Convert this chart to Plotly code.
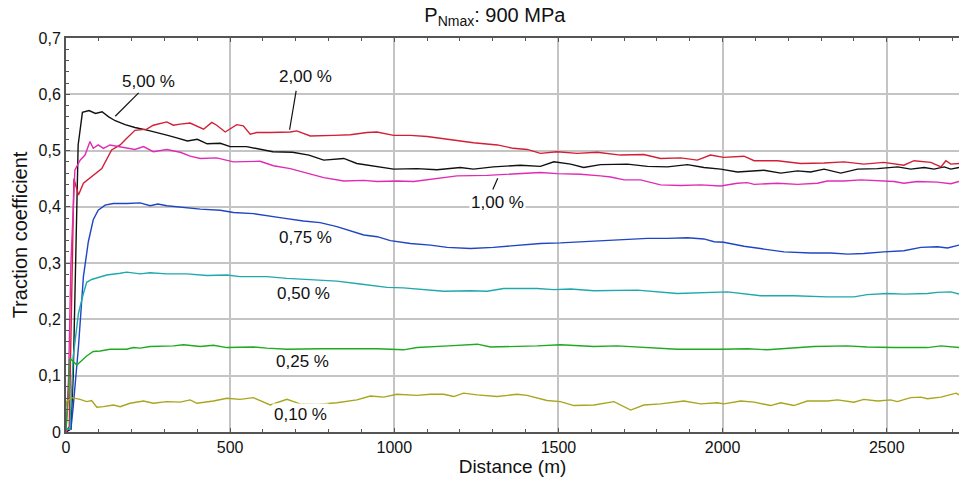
import plotly.graph_objects as go

# ---------------- data ----------------
x_black = [0, 15, 22, 30, 37, 50, 70, 90, 110, 130, 150, 180, 210, 250, 280, 310, 340, 370, 400, 430, 470, 500, 550, 590, 630, 690, 740, 785, 846, 886, 948, 998, 1069, 1130, 1201, 1241, 1302, 1384, 1445, 1486, 1537, 1577, 1628, 1710, 1771, 1832, 1893, 1943, 1994, 2045, 2126, 2177, 2228, 2268, 2309, 2360, 2411, 2472, 2533, 2573, 2614, 2644, 2675, 2695, 2720]
y_black = [0.0, 0.005, 0.1, 0.35, 0.51, 0.568, 0.571, 0.566, 0.569, 0.56, 0.553, 0.546, 0.541, 0.536, 0.532, 0.527, 0.522, 0.517, 0.52, 0.512, 0.513, 0.507, 0.507, 0.503, 0.498, 0.497, 0.492, 0.483, 0.486, 0.477, 0.471, 0.467, 0.468, 0.466, 0.47, 0.467, 0.471, 0.474, 0.472, 0.48, 0.476, 0.47, 0.475, 0.476, 0.472, 0.471, 0.475, 0.47, 0.467, 0.462, 0.465, 0.46, 0.464, 0.462, 0.467, 0.46, 0.467, 0.468, 0.471, 0.467, 0.47, 0.467, 0.471, 0.467, 0.47]

x_red = [0, 10, 24, 38, 53, 78, 109, 139, 165, 185, 210, 246, 266, 307, 327, 348, 378, 419, 444, 459, 485, 520, 540, 561, 581, 622, 683, 703, 744, 815, 866, 917, 947, 998, 1049, 1100, 1171, 1241, 1314, 1362, 1405, 1445, 1496, 1557, 1618, 1689, 1760, 1811, 1872, 1923, 1963, 2003, 2065, 2096, 2167, 2238, 2309, 2370, 2430, 2491, 2552, 2583, 2634, 2665, 2680, 2695, 2720]
y_red = [0.0, 0.01, 0.45, 0.421, 0.442, 0.453, 0.468, 0.501, 0.51, 0.522, 0.536, 0.538, 0.545, 0.551, 0.545, 0.547, 0.549, 0.538, 0.55, 0.545, 0.533, 0.546, 0.544, 0.529, 0.532, 0.532, 0.533, 0.535, 0.526, 0.527, 0.528, 0.532, 0.533, 0.527, 0.527, 0.525, 0.519, 0.514, 0.51, 0.504, 0.502, 0.495, 0.498, 0.495, 0.497, 0.492, 0.493, 0.486, 0.487, 0.483, 0.492, 0.488, 0.49, 0.482, 0.482, 0.477, 0.478, 0.48, 0.476, 0.479, 0.474, 0.482, 0.479, 0.471, 0.482, 0.476, 0.477]

x_magenta = [0, 8, 15, 27, 43, 58, 73, 83, 98, 114, 134, 160, 185, 210, 236, 266, 307, 348, 378, 409, 459, 510, 591, 632, 683, 734, 785, 846, 907, 948, 1008, 1059, 1130, 1191, 1283, 1354, 1405, 1445, 1496, 1567, 1628, 1659, 1700, 1750, 1811, 1872, 1933, 1994, 2045, 2075, 2096, 2167, 2228, 2289, 2319, 2370, 2421, 2472, 2522, 2552, 2593, 2654, 2695, 2720]
y_magenta = [0.0, 0.1, 0.3, 0.465, 0.483, 0.492, 0.516, 0.504, 0.51, 0.504, 0.51, 0.507, 0.504, 0.502, 0.507, 0.498, 0.502, 0.497, 0.49, 0.486, 0.487, 0.48, 0.481, 0.473, 0.468, 0.46, 0.452, 0.446, 0.447, 0.445, 0.446, 0.445, 0.451, 0.455, 0.456, 0.458, 0.459, 0.461, 0.459, 0.458, 0.455, 0.453, 0.448, 0.448, 0.439, 0.438, 0.439, 0.437, 0.442, 0.443, 0.44, 0.442, 0.44, 0.442, 0.446, 0.446, 0.448, 0.446, 0.445, 0.442, 0.445, 0.444, 0.441, 0.445]

x_blue = [0, 15, 22, 38, 53, 68, 83, 98, 119, 144, 185, 226, 256, 280, 307, 343, 368, 409, 470, 510, 571, 612, 662, 723, 774, 825, 866, 907, 948, 988, 1049, 1110, 1161, 1232, 1302, 1384, 1445, 1506, 1608, 1710, 1771, 1832, 1893, 1943, 1974, 2003, 2065, 2126, 2187, 2268, 2329, 2381, 2430, 2491, 2552, 2604, 2654, 2685, 2720]
y_blue = [0.005, 0.005, 0.045, 0.152, 0.276, 0.338, 0.377, 0.394, 0.403, 0.406, 0.406, 0.407, 0.402, 0.405, 0.402, 0.4, 0.399, 0.396, 0.394, 0.39, 0.388, 0.384, 0.38, 0.375, 0.372, 0.365, 0.358, 0.35, 0.347, 0.34, 0.335, 0.332, 0.328, 0.326, 0.328, 0.332, 0.335, 0.336, 0.339, 0.342, 0.344, 0.344, 0.345, 0.343, 0.338, 0.337, 0.33, 0.325, 0.32, 0.318, 0.318, 0.316, 0.317, 0.32, 0.322, 0.328, 0.329, 0.327, 0.332]

x_teal = [0, 12, 22, 38, 53, 63, 78, 98, 124, 165, 185, 226, 256, 307, 368, 429, 490, 530, 612, 673, 723, 774, 825, 896, 978, 1028, 1150, 1232, 1283, 1333, 1435, 1486, 1537, 1608, 1740, 1862, 1933, 2015, 2116, 2217, 2319, 2400, 2440, 2502, 2552, 2624, 2654, 2695, 2720]
y_teal = [0.005, 0.005, 0.134, 0.211, 0.246, 0.266, 0.271, 0.275, 0.279, 0.282, 0.284, 0.281, 0.283, 0.281, 0.281, 0.278, 0.279, 0.276, 0.276, 0.273, 0.271, 0.269, 0.268, 0.263, 0.257, 0.256, 0.25, 0.251, 0.25, 0.255, 0.255, 0.253, 0.254, 0.251, 0.252, 0.246, 0.247, 0.249, 0.242, 0.242, 0.24, 0.24, 0.244, 0.246, 0.245, 0.246, 0.248, 0.249, 0.245]

x_green = [0, 6, 12, 33, 63, 83, 104, 134, 185, 205, 226, 256, 327, 358, 409, 449, 490, 571, 612, 673, 774, 825, 948, 1028, 1069, 1165, 1253, 1293, 1384, 1435, 1506, 1608, 1679, 1862, 1994, 2076, 2136, 2217, 2278, 2380, 2440, 2522, 2624, 2665, 2720]
y_green = [0.005, 0.05, 0.131, 0.119, 0.135, 0.143, 0.144, 0.147, 0.147, 0.15, 0.149, 0.152, 0.153, 0.155, 0.152, 0.154, 0.15, 0.151, 0.149, 0.147, 0.148, 0.148, 0.148, 0.146, 0.15, 0.153, 0.156, 0.151, 0.152, 0.153, 0.155, 0.152, 0.153, 0.147, 0.147, 0.148, 0.146, 0.149, 0.152, 0.153, 0.151, 0.15, 0.15, 0.153, 0.15]

x_olive = [0, 2, 17, 43, 63, 78, 94, 114, 144, 165, 195, 236, 266, 307, 348, 378, 399, 449, 490, 530, 571, 622, 673, 713, 764, 825, 886, 927, 968, 1008, 1069, 1110, 1150, 1181, 1211, 1252, 1313, 1374, 1404, 1465, 1506, 1547, 1608, 1669, 1720, 1760, 1811, 1882, 1933, 1984, 2004, 2055, 2096, 2146, 2177, 2217, 2258, 2319, 2350, 2400, 2430, 2472, 2512, 2532, 2573, 2604, 2624, 2665, 2711, 2720]
y_olive = [0.045, 0.054, 0.061, 0.058, 0.054, 0.056, 0.044, 0.045, 0.048, 0.045, 0.051, 0.055, 0.051, 0.054, 0.053, 0.057, 0.051, 0.055, 0.06, 0.058, 0.061, 0.048, 0.058, 0.05, 0.049, 0.052, 0.057, 0.064, 0.062, 0.067, 0.065, 0.067, 0.067, 0.063, 0.069, 0.066, 0.063, 0.067, 0.065, 0.056, 0.054, 0.047, 0.048, 0.054, 0.039, 0.048, 0.05, 0.055, 0.05, 0.052, 0.05, 0.055, 0.053, 0.047, 0.052, 0.047, 0.055, 0.055, 0.057, 0.053, 0.058, 0.055, 0.057, 0.054, 0.061, 0.062, 0.059, 0.062, 0.069, 0.066]

series_labels = ["5,00 %", "2,00 %", "1,00 %", "0,75 %", "0,50 %", "0,25 %", "0,10 %"]
y_tickvals = [0, 0.1, 0.2, 0.3, 0.4, 0.5, 0.6, 0.7]
y_ticktext = ["0", "0,1", "0,2", "0,3", "0,4", "0,5", "0,6", "0,7"]
x_tickvals = [0, 500, 1000, 1500, 2000, 2500]

# ---------------- figure ----------------
FONT = "Liberation Sans, Arial, sans-serif"
series = [
    (x_black, y_black, "#111111"),
    (x_red, y_red, "#d21f35"),
    (x_magenta, y_magenta, "#e02cb4"),
    (x_blue, y_blue, "#1f45c4"),
    (x_teal, y_teal, "#1fa9ad"),
    (x_green, y_green, "#1faa22"),
    (x_olive, y_olive, "#a8a61c"),
]

fig = go.Figure()
for (xs, ys, col), name in zip(series, series_labels):
    fig.add_trace(go.Scatter(x=xs, y=ys, mode="lines", name=name,
                             line=dict(color=col, width=1.4), showlegend=False))

# label positions (x, y) and leader lines
label_pos = [(250, 0.623), (729, 0.632), (1314, 0.408), (729, 0.345),
             (722, 0.246), (720, 0.126), (713, 0.031)]
for (lx, ly), txt in zip(label_pos, series_labels):
    fig.add_annotation(x=lx, y=ly, text=txt, showarrow=False,
                       font=dict(family=FONT, size=17, color="#111111"),
                       bgcolor="white", borderpad=1)

leaders = [((222, 0.603), (150, 0.561)),
           ((701, 0.606), (681, 0.537)),
           ((1315, 0.451), (1300, 0.431))]
for (x0, y0), (x1, y1) in leaders:
    fig.add_shape(type="line", x0=x0, y0=y0, x1=x1, y1=y1,
                  line=dict(color="#111111", width=1.2))

fig.update_layout(
    width=959, height=484,
    margin=dict(l=66, r=0, t=38, b=52),
    paper_bgcolor="white", plot_bgcolor="white",
    font=dict(family=FONT, size=16, color="#111111"),
    title=dict(text="P<sub>Nmax</sub>: 900 MPa", x=0.516, xanchor="center",
               y=0.97, yanchor="middle",
               font=dict(family=FONT, size=20, color="#111111")),
)
fig.update_xaxes(
    range=[0, 2720], tickvals=x_tickvals,
    showgrid=True, gridcolor="#c4c4c4", gridwidth=1.5,
    showline=True, linecolor="#555555", linewidth=2, mirror="allticks",
    ticks="inside", ticklen=4, tickcolor="#555555",
    minor=dict(dtick=100, ticks="inside", ticklen=3, tickcolor="#555555", showgrid=False),
    tickfont=dict(size=16),
    title=dict(text="Distance (m)", font=dict(size=19), standoff=4),
    zeroline=False,
)
fig.update_yaxes(
    range=[0, 0.7], tickvals=y_tickvals, ticktext=y_ticktext,
    showgrid=True, gridcolor="#c4c4c4", gridwidth=1.5,
    showline=True, linecolor="#555555", linewidth=2,
    ticks="inside", ticklen=4, tickcolor="#555555",
    minor=dict(dtick=0.02, ticks="inside", ticklen=3, tickcolor="#555555", showgrid=False),
    tickfont=dict(size=16),
    title=dict(text="Traction coefficient", font=dict(size=20), standoff=6),
    zeroline=False,
)

fig.write_html("out.html",
               config={"displayModeBar": False},
               post_script="document.body.style.margin='0';document.body.style.overflow='hidden';")
